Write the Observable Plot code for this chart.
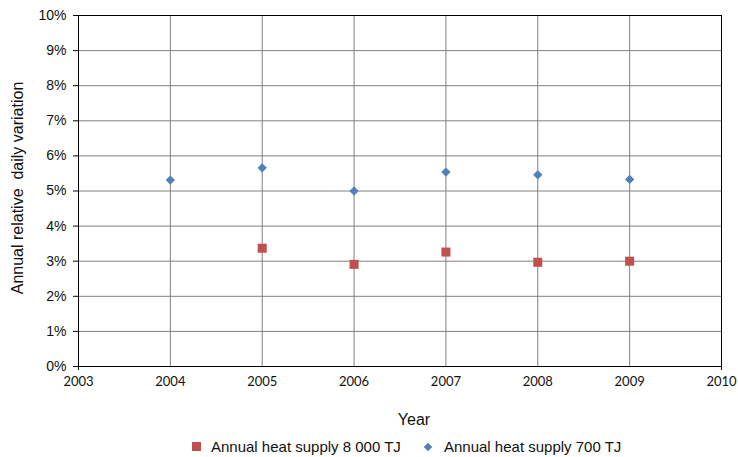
<!DOCTYPE html>
<html>
<head>
<meta charset="utf-8">
<script src="https://cdn.jsdelivr.net/npm/d3@7"></script>
<script src="https://cdn.jsdelivr.net/npm/@observablehq/plot@0.6"></script>
<style>
  body { margin: 0; background: #fff; }
  #legend { width: 738px; height: 27px; position: relative; font-family: "Liberation Sans", Arial, sans-serif; font-size: 15px; color: #111; }
  .item { position: absolute; top: 8px; display: flex; align-items: center; white-space: nowrap; }
  .sq { width: 9px; height: 9px; background: #C0504D; margin-right: 10px; }
  .dm { width: 6px; height: 6px; background: #4F81BD; transform: rotate(45deg); margin-right: 13px; margin-left: 2px; }
</style>
</head>
<body>
<div id="chart"></div>
<div id="legend">
  <div class="item" style="left:192px"><div class="sq"></div><span id="l1"></span></div>
  <div class="item" style="left:423px"><div class="dm"></div><span id="l2"></span></div>
</div>
<script>
const years = [2004, 2005, 2006, 2007, 2008, 2009];
const supply700 = [0.0531, 0.0566, 0.0500, 0.0554, 0.0546, 0.0533];
const supply8000Years = [2005, 2006, 2007, 2008, 2009];
const supply8000 = [0.0337, 0.0291, 0.0326, 0.0297, 0.0300];
const xTicks = [2003, 2004, 2005, 2006, 2007, 2008, 2009, 2010];
const yTicks = [0, 0.01, 0.02, 0.03, 0.04, 0.05, 0.06, 0.07, 0.08, 0.09, 0.10];
const seriesNames = ["Annual heat supply 8 000 TJ", "Annual heat supply 700 TJ"];
const xLabel = "Year";
const yLabel = "Annual relative  daily variation";

const d700 = years.map((y, i) => ({year: y, v: supply700[i]}));
const d8000 = supply8000Years.map((y, i) => ({year: y, v: supply8000[i]}));

document.getElementById("l1").textContent = seriesNames[0];
document.getElementById("l2").textContent = seriesNames[1];

const chart = Plot.plot({
  width: 738,
  height: 430,
  marginLeft: 78,
  marginRight: 17,
  marginTop: 15,
  marginBottom: 64,
  style: {fontFamily: "Liberation Sans, Arial, sans-serif", background: "#fff"},
  x: {type: "linear", domain: [2003, 2010]},
  y: {type: "linear", domain: [0, 0.10]},
  marks: [
    Plot.gridX(xTicks, {stroke: "#808080", strokeOpacity: 1}),
    Plot.gridY(yTicks, {stroke: "#808080", strokeOpacity: 1}),
    Plot.frame({stroke: "#000"}),
    Plot.axisY(yTicks, {tickFormat: d3.format(".0%"), tickSize: 5, tickPadding: 7, fontSize: 14, fill: "#111", stroke: "#000", label: null}),
    Plot.axisX(xTicks, {tickFormat: d3.format("d"), tickSize: 0, tickPadding: 10, fontSize: 13, fontFamily: "Lato, sans-serif", fill: "#111", label: null}),
    Plot.axisX([2003, 2010], {tickFormat: () => "", tickSize: 4, stroke: "#000", label: null}),
    Plot.text([xLabel], {frameAnchor: "bottom", dx: 14, dy: 58, fontSize: 16, fill: "#111"}),
    Plot.text([yLabel], {frameAnchor: "left", dx: -61, dy: -3, rotate: -90, textAnchor: "middle", fontSize: 16, fill: "#111"}),
    Plot.dot(d8000, {x: "year", y: "v", symbol: "square", r: 5.1, fill: "#C0504D", stroke: "none"}),
    Plot.dot(d700, {x: "year", y: "v", symbol: "diamond2", r: 4.2, fill: "#4F81BD", stroke: "none"})
  ]
});
document.getElementById("chart").appendChild(chart);
</script>
</body>
</html>
